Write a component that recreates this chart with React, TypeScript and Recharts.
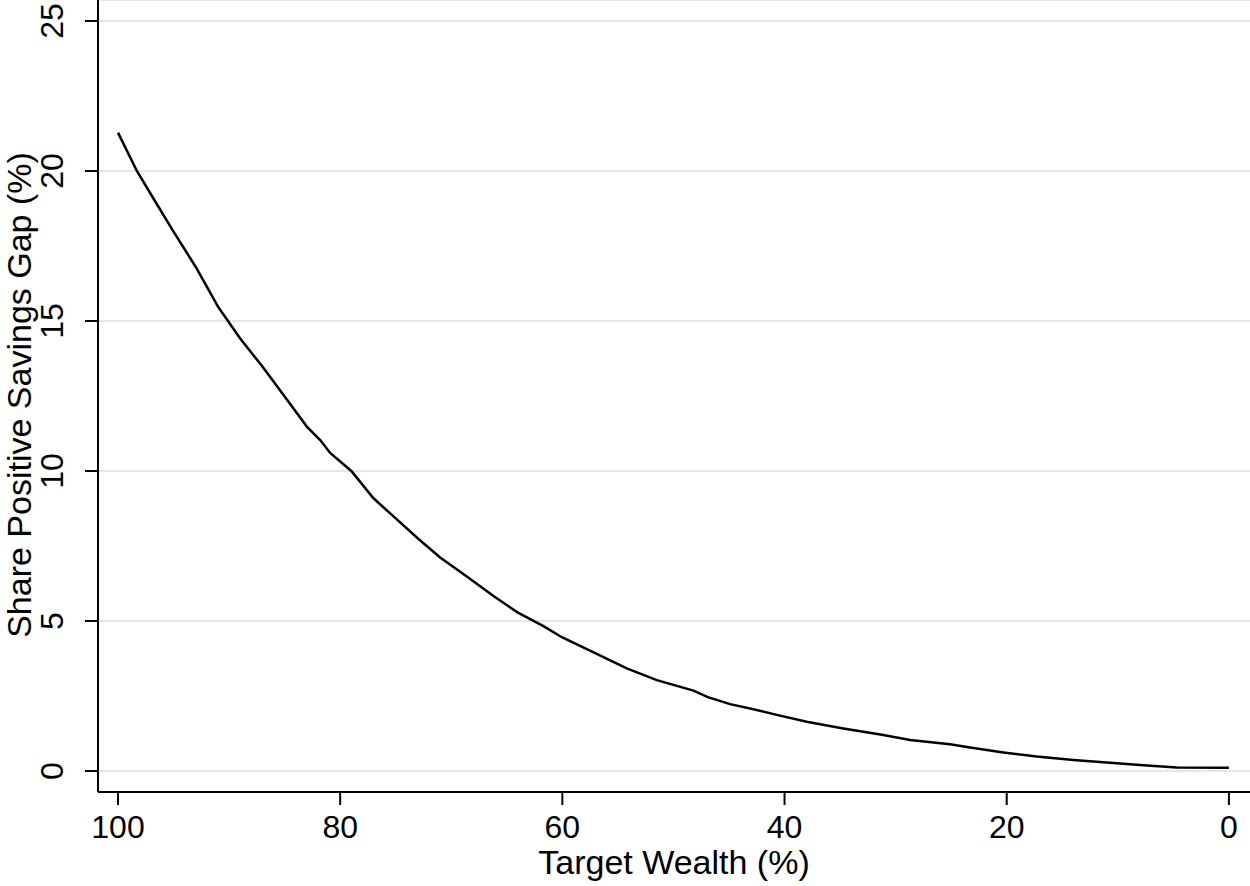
import { LineChart, Line, XAxis, YAxis, CartesianGrid } from 'recharts'

// target wealth (%) on the x axis
const wealth = [
  100, 98.3, 97, 95, 93, 91, 90.1, 89, 87, 85, 83, 81.8, 80.9, 79, 77, 75, 73, 71,
  68.6, 66.2, 64, 61.7, 60, 57, 54.2, 51.5, 48.2, 46.9, 44.9, 42.8, 40.7, 38, 34.7,
  31.1, 28.7, 25.1, 23.3, 20.3, 17.3, 14, 11, 8, 4.7, 0,
]
// share with a positive savings gap (%)
const share = [
  21.28, 20.0, 19.2, 17.98, 16.8, 15.48, 15.0, 14.42, 13.48, 12.48, 11.48, 11.03, 10.6,
  10.0, 9.09, 8.42, 7.75, 7.12, 6.48, 5.83, 5.28, 4.83, 4.45, 3.92, 3.42, 3.03, 2.68,
  2.46, 2.23, 2.06, 1.87, 1.64, 1.42, 1.2, 1.03, 0.89, 0.78, 0.62, 0.48, 0.37, 0.28,
  0.2, 0.12, 0.11,
]
const xTicks = [100, 80, 60, 40, 20, 0]
const yTicks = [0, 5, 10, 15, 20, 25]

const data = wealth.map((w, i) => ({ wealth: w, share: share[i] }))

const FONT = '"Liberation Sans", Arial, sans-serif'

function XTick({ x, y, payload }: any) {
  return (
    <text x={x} y={y + 31} textAnchor="middle" fontFamily={FONT} fontSize={32} fill="#000">
      {payload.value}
    </text>
  )
}

function YTick({ y, payload }: any) {
  return (
    <text
      x={63}
      y={y}
      transform={`rotate(-90, 63, ${y})`}
      textAnchor="middle"
      fontFamily={FONT}
      fontSize={32}
      fill="#000"
    >
      {payload.value}
    </text>
  )
}

function XTitle() {
  return (
    <text x={674} y={874} textAnchor="middle" fontFamily={FONT} fontSize={34} fill="#000">
      Target Wealth (%)
    </text>
  )
}

function YTitle() {
  return (
    <text
      x={31}
      y={395}
      transform="rotate(-90, 31, 395)"
      textAnchor="middle"
      fontFamily={FONT}
      fontSize={34}
      fill="#000"
    >
      Share Positive Savings Gap (%)
    </text>
  )
}

export default function App() {
  return (
    <div style={{ position: 'absolute', left: 0, top: 0, width: 1250, height: 886, background: '#fff' }}>
      <LineChart width={1250} height={886} data={data} margin={{ top: 0, right: 0, bottom: 0, left: 0 }}>
        <CartesianGrid vertical={false} stroke="#e6e6e6" strokeWidth={2} />
        <XAxis
          dataKey="wealth"
          type="number"
          domain={[-1.9, 101.8]}
          reversed
          ticks={xTicks}
          interval={0}
          height={94}
          axisLine={{ stroke: '#000', strokeWidth: 2 }}
          tickLine={{ stroke: '#000', strokeWidth: 2 }}
          tickSize={13}
          tick={<XTick />}
          label={<XTitle />}
        />
        <YAxis
          type="number"
          domain={[-0.7, 25.7]}
          ticks={yTicks}
          interval={0}
          width={98}
          axisLine={{ stroke: '#000', strokeWidth: 2 }}
          tickLine={{ stroke: '#000', strokeWidth: 2 }}
          tickSize={13}
          tick={<YTick />}
          label={<YTitle />}
        />
        <Line
          type="linear"
          dataKey="share"
          stroke="#000"
          strokeWidth={2.5}
          dot={false}
          isAnimationActive={false}
        />
      </LineChart>
    </div>
  )
}
